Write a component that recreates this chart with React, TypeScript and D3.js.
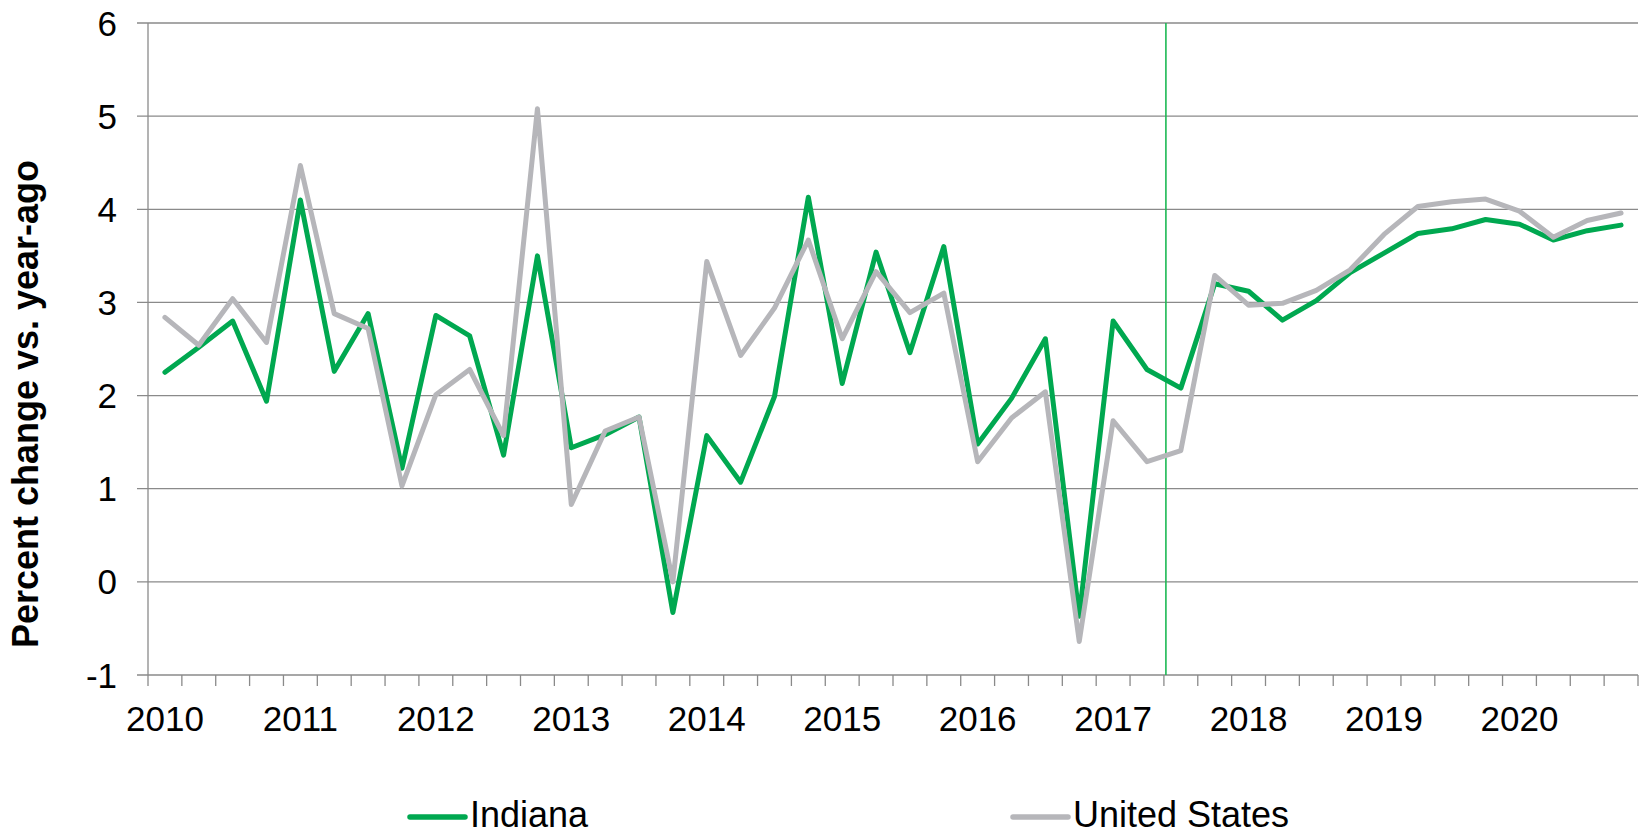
import React, { useEffect, useRef } from 'react';
import * as d3 from 'd3';

// quarterly data, 2010Q1 - 2020Q4
const years = [2010, 2011, 2012, 2013, 2014, 2015, 2016, 2017, 2018, 2019, 2020];
const quarterNames = ['Q1', 'Q2', 'Q3', 'Q4'];

const indiana = [
  2.25, 2.52, 2.80, 1.94, 4.10, 2.26, 2.88, 1.22, 2.86, 2.64, 1.36,
  3.50, 1.44, 1.58, 1.77, -0.33, 1.57, 1.07, 1.99, 4.13, 2.13, 3.54,
  2.46, 3.60, 1.48, 1.97, 2.61, -0.37, 2.80, 2.28, 2.08, 3.20, 3.12,
  2.81, 3.02, 3.32, 3.53, 3.74, 3.79, 3.89, 3.84, 3.67, 3.77, 3.83,
];

const unitedStates = [
  2.84, 2.54, 3.04, 2.57, 4.47, 2.88, 2.72, 1.03, 2.01, 2.28, 1.57,
  5.08, 0.83, 1.62, 1.77, 0.0, 3.44, 2.43, 2.94, 3.67, 2.61, 3.33,
  2.89, 3.10, 1.29, 1.76, 2.04, -0.64, 1.73, 1.29, 1.41, 3.29, 2.97,
  2.99, 3.13, 3.35, 3.73, 4.03, 4.08, 4.11, 3.98, 3.70, 3.88, 3.96,
];

const yTicks = [-1, 0, 1, 2, 3, 4, 5, 6];
const forecastStart = '2017Q3'; // vertical marker sits at the start of this quarter

const seriesList = [
  { name: 'Indiana', values: indiana, color: '#00A850' },
  { name: 'United States', values: unitedStates, color: '#B6B6BA' },
];

const quarters = years.flatMap(y => quarterNames.map(q => `${y}${q}`));

const App = () => {
  const ref = useRef<SVGSVGElement>(null);

  useEffect(() => {
    const svg = d3.select(ref.current);
    svg.selectAll('*').remove();

    const width = 1642;
    const height = 836;
    const left = 148;
    const right = 1638;
    const top = 23;
    const bottom = 675;
    const font = '"Liberation Sans", Arial, sans-serif';
    const gridColor = '#8A8A8A';

    svg.attr('width', width).attr('height', height);

    const x = d3.scaleBand<string>().domain(quarters).range([left, right]).padding(0);
    const y = d3.scaleLinear().domain([-1, 6]).range([bottom, top]);
    const bw = x.bandwidth();

    // horizontal gridlines + left ticks
    const grid = svg.append('g');
    grid.selectAll('line')
      .data(yTicks)
      .enter()
      .append('line')
      .attr('x1', left - 11)
      .attr('x2', right)
      .attr('y1', d => y(d))
      .attr('y2', d => y(d))
      .attr('stroke', gridColor)
      .attr('stroke-width', 1.3);

    // y axis line
    svg.append('line')
      .attr('x1', left).attr('x2', left)
      .attr('y1', y(6)).attr('y2', y(-1))
      .attr('stroke', gridColor)
      .attr('stroke-width', 1.3);

    // x ticks at quarter boundaries
    const boundaries = quarters.map(q => x(q) as number).concat([right]);
    svg.append('g')
      .selectAll('line')
      .data(boundaries)
      .enter()
      .append('line')
      .attr('x1', d => d).attr('x2', d => d)
      .attr('y1', y(-1)).attr('y2', y(-1) + 11)
      .attr('stroke', gridColor)
      .attr('stroke-width', 1.3);

    // y tick labels
    svg.append('g')
      .selectAll('text')
      .data(yTicks)
      .enter()
      .append('text')
      .attr('x', 117)
      .attr('y', d => y(d))
      .attr('dy', '0.36em')
      .attr('text-anchor', 'end')
      .attr('font-family', font)
      .attr('font-size', 35)
      .attr('fill', '#000')
      .text(d => d);

    // year labels on first quarter
    svg.append('g')
      .selectAll('text')
      .data(years)
      .enter()
      .append('text')
      .attr('x', d => (x(`${d}Q1`) as number) + bw / 2)
      .attr('y', 731)
      .attr('text-anchor', 'middle')
      .attr('font-family', font)
      .attr('font-size', 35)
      .attr('fill', '#000')
      .text(d => d);

    // y axis title
    svg.append('text')
      .attr('transform', 'translate(38, 404) rotate(-90)')
      .attr('text-anchor', 'middle')
      .attr('font-family', font)
      .attr('font-size', 36)
      .attr('font-weight', 'bold')
      .attr('fill', '#000')
      .text('Percent change vs. year-ago');

    // forecast marker
    const fx = x(forecastStart) as number;
    svg.append('line')
      .attr('x1', fx + 2).attr('x2', fx + 2)
      .attr('y1', y(6)).attr('y2', y(-1))
      .attr('stroke', '#1DB954')
      .attr('stroke-width', 1.6);

    // series lines
    const line = d3.line<number>()
      .x((_, i) => (x(quarters[i]) as number) + bw / 2)
      .y(d => y(d));

    svg.append('g')
      .selectAll('path')
      .data(seriesList)
      .enter()
      .append('path')
      .attr('d', d => line(d.values))
      .attr('fill', 'none')
      .attr('stroke', d => d.color)
      .attr('stroke-width', 5)
      .attr('stroke-linejoin', 'round')
      .attr('stroke-linecap', 'round');

    // legend
    const legendX = [410, 1013];
    const lg = svg.append('g')
      .selectAll('g')
      .data(seriesList)
      .enter()
      .append('g')
      .attr('transform', (_, i) => `translate(${legendX[i]}, 817)`);

    lg.append('line')
      .attr('x1', 0).attr('x2', 55)
      .attr('y1', 0).attr('y2', 0)
      .attr('stroke', d => d.color)
      .attr('stroke-width', 5.5)
      .attr('stroke-linecap', 'round');

    lg.append('text')
      .attr('x', 60)
      .attr('y', 10)
      .attr('font-family', font)
      .attr('font-size', 36)
      .attr('fill', '#000')
      .text(d => d.name);
  }, []);

  return <svg ref={ref} style={{ position: 'absolute', left: 0, top: 0 }} />;
};

export default App;
